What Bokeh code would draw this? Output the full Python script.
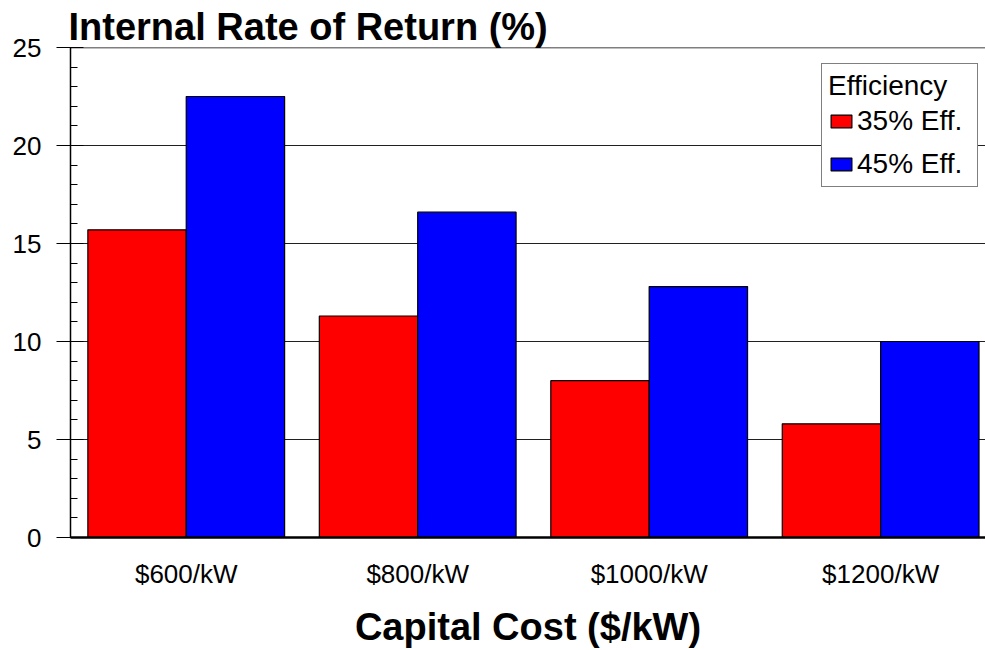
from bokeh.plotting import figure
from bokeh.models import Range1d, FixedTicker, Legend, LegendItem, Span
from bokeh.embed import file_html
from bokeh.resources import INLINE

categories = ["$600/kW", "$800/kW", "$1000/kW", "$1200/kW"]
eff35 = [15.7, 11.3, 8.0, 5.8]
eff45 = [22.5, 16.6, 12.8, 10.0]
series_names = ["35% Eff.", "45% Eff."]
series_colors = ["#FF0000", "#0000FF"]
y_ticks = [0, 5, 10, 15, 20, 25]
y_minor = [v for v in range(0, 26) if v % 5 != 0]

FONT = "Liberation Sans"

p = figure(width=985, height=650, output_backend="svg", toolbar_location=None,
           x_range=Range1d(0, 3.953), y_range=Range1d(0, 25),
           min_border_left=70, min_border_right=0, min_border_top=47,
           min_border_bottom=113)
p.outline_line_color = None
p.background_fill_color = "white"

# title
p.title.text = "Internal Rate of Return (%)"
p.title.text_font = FONT
p.title.text_font_size = "38px"
p.title.text_font_style = "bold"
p.title.text_color = "black"
p.title.align = "left"
p.title.standoff = 0
p.title.offset = -2

bar_w = 0.425
centers = [i + 0.5 for i in range(len(categories))]
x35 = [c - bar_w / 2 for c in centers]
x45 = [c + bar_w / 2 for c in centers]

r35 = p.vbar(x=x35, top=eff35, width=bar_w, fill_color=series_colors[0],
             line_color="black", line_width=1.2)
r45 = p.vbar(x=x45, top=eff45, width=bar_w, fill_color=series_colors[1],
             line_color="black", line_width=1.2)

# grid
p.xgrid.visible = False
p.ygrid.ticker = FixedTicker(ticks=[t for t in y_ticks if 0 < t < 25])
p.ygrid.grid_line_color = "#202020"
p.ygrid.grid_line_width = 1
p.add_layout(Span(location=y_ticks[-1], dimension="width", line_color="black",
                  line_width=1.5))

# y axis
ya = p.yaxis[0]
ya.ticker = FixedTicker(ticks=y_ticks, minor_ticks=y_minor)
ya.major_tick_out = 14
ya.major_tick_in = 13
ya.minor_tick_in = 7
ya.minor_tick_out = 0
ya.major_tick_line_color = "black"
ya.minor_tick_line_color = "black"
ya.axis_line_color = "black"
ya.axis_line_width = 1.5
ya.major_label_text_font = FONT
ya.major_label_text_font_size = "26px"
ya.major_label_text_color = "black"
ya.major_label_standoff = 15

# x axis
xa = p.xaxis[0]
xa.ticker = FixedTicker(ticks=centers)
xa.major_label_overrides = {c: lab for c, lab in zip(centers, categories)}
xa.major_tick_out = 0
xa.major_tick_in = 0
xa.minor_tick_out = 0
xa.minor_tick_in = 0
xa.axis_line_color = "black"
xa.axis_line_width = 2.5
xa.major_label_text_font = FONT
xa.major_label_text_font_size = "26px"
xa.major_label_text_color = "black"
xa.major_label_standoff = 21
xa.axis_label = "Capital Cost ($/kW)"
xa.axis_label_text_font = FONT
xa.axis_label_text_font_size = "38px"
xa.axis_label_text_font_style = "bold"
xa.axis_label_text_color = "black"
xa.axis_label_standoff = 14

legend = Legend(items=[LegendItem(label=series_names[0], renderers=[r35]),
                       LegendItem(label=series_names[1], renderers=[r45])],
                title="Efficiency", location=(751, 350), margin=0,
                title_text_font=FONT, title_text_font_size="28px",
                title_text_font_style="normal", title_text_color="black",
                label_text_font=FONT, label_text_font_size="28px",
                label_text_color="black", label_width=114,
                glyph_width=26, glyph_height=16, label_standoff=3,
                label_height=30, spacing=11, padding=6, title_standoff=3,
                border_line_color="black", border_line_width=1,
                background_fill_color="white", background_fill_alpha=1)
p.add_layout(legend)

open("out.html", "w").write(file_html(p, INLINE))
